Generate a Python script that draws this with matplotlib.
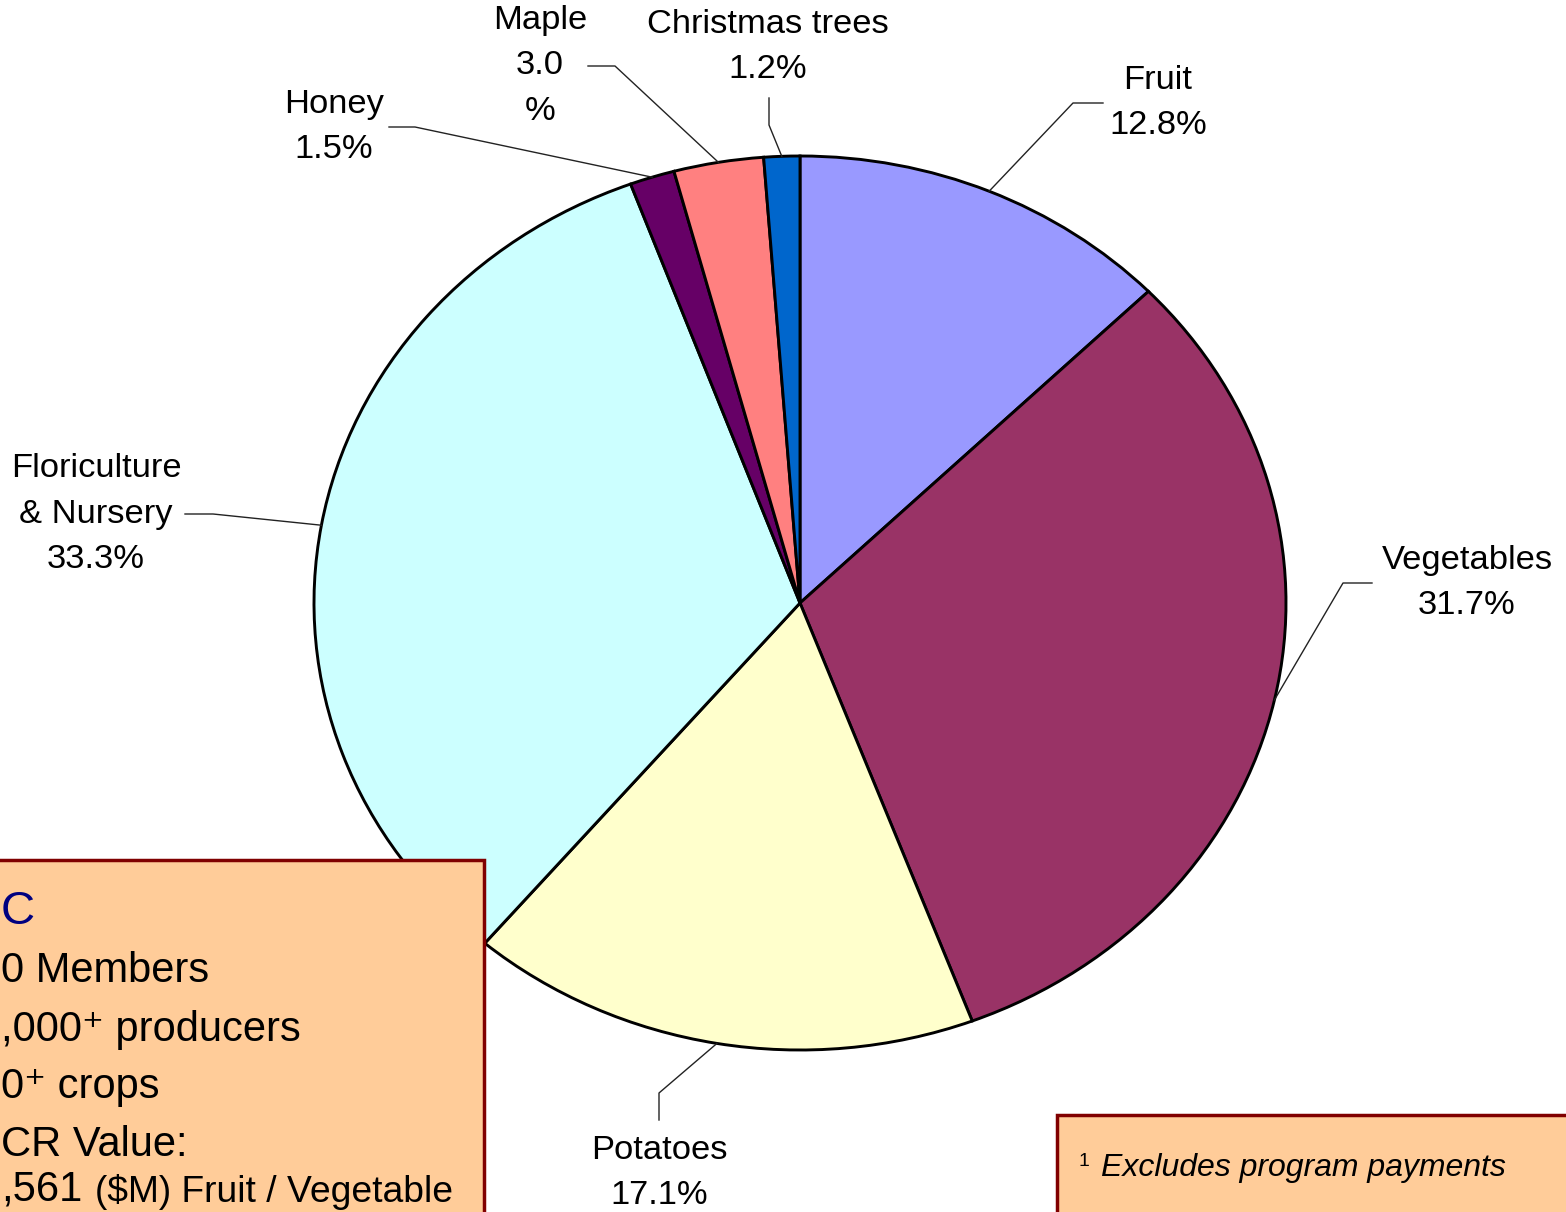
import numpy as np
import matplotlib
matplotlib.use("Agg")
import matplotlib.pyplot as plt
from matplotlib.patches import Rectangle

# ---- data ----
categories = ["Fruit", "Vegetables", "Potatoes", "Floriculture\n& Nursery", "Honey", "Maple", "Christmas trees"]
values = [12.8, 31.7, 17.1, 33.3, 1.5, 3.0, 1.2]
value_labels = ["12.8%", "31.7%", "17.1%", "33.3%", "1.5%", "3.0\n%", "1.2%"]
colors = ["#9999FF", "#993366", "#FFFFCC", "#CCFFFF", "#660066", "#FF8080", "#0066CC"]

W, H = 1566, 1212
fig = plt.figure(figsize=(W / 100, H / 100), dpi=100)
fig.patch.set_facecolor("white")

# pie axes positioned over the (elliptical) pie area
pl, pr, pt, pb = 314, 1286, 156, 1050
ax = fig.add_axes([pl / W, 1 - pb / H, (pr - pl) / W, (pb - pt) / H])
wedges, _ = ax.pie(values, colors=colors, startangle=90, counterclock=False,
                   wedgeprops=dict(edgecolor="black", linewidth=2.1))
for w in wedges:
    w.set_clip_on(False)
ax.set_aspect("auto")
ax.set_xlim(-1, 1)
ax.set_ylim(-1, 1)
ax.axis("off")

# overlay axes in pixel coordinates
ov = fig.add_axes([0, 0, 1, 1])
ov.set_xlim(0, W)
ov.set_ylim(H, 0)
ov.axis("off")
ov.patch.set_alpha(0)

FONT = ["Liberation Sans", "DejaVu Sans"]

# label layout: (text center, label anchor, elbow)
label_layout = [
    ((1158, 103), (1103, 103), (1073, 103)),
    ((1467, 583), (1372, 583), (1343, 583)),
    ((659, 1173), (659, 1120), (659, 1093)),
    ((96, 514), (185, 514), (213, 514)),
    ((334, 127), (389, 127), (415, 127)),
    ((540, 66), (588, 66), (615, 66)),
    ((768, 47), (769, 98), (769, 125)),
]

to_ov = ov.transData.inverted()
for w, cat, vl, (tc, a, e) in zip(wedges, categories, value_labels, label_layout):
    mid = np.deg2rad((w.theta1 + w.theta2) / 2)
    disp = ax.transData.transform((np.cos(mid), np.sin(mid)))
    px, py = to_ov.transform(disp)
    ov.plot([a[0], e[0], px], [a[1], e[1], py], color="#222222", lw=1.0)
    ov.text(tc[0], tc[1], cat + "\n" + vl, ha="center", va="center",
            fontsize=24.8, family=FONT, linespacing=1.6, color="black")

# left info box
ov.add_patch(Rectangle((-20, 860), 504, 420, facecolor="#FFCC99",
                       edgecolor="#800000", lw=2.5, zorder=5))
ov.text(1, 912, "C", fontsize=34, family=FONT, color="#000080",
        ha="left", va="center", zorder=6)
box_lines = [(971, "0 Members"), (1030, ",000\u207a producers"),
             (1087, "0\u207a crops"), (1145, "CR Value:")]
for y, s in box_lines:
    ov.text(1, y, s, fontsize=30, family=FONT, color="black",
            ha="left", va="center", zorder=6)
ov.text(1, 1190, ",561", fontsize=30, family=FONT, color="black",
        ha="left", va="center", zorder=6)
ov.text(95, 1192, "($M) Fruit / Vegetable", fontsize=26.8, family=FONT,
        color="black", ha="left", va="center", zorder=6)

# footnote box
ov.add_patch(Rectangle((1057, 1115), 600, 200, facecolor="#FFCC99",
                       edgecolor="#800000", lw=2.5, zorder=5))
ov.text(1078, 1162, "1", fontsize=14, family=FONT, color="black",
        ha="left", va="center", zorder=6)
ov.text(1101, 1168, "Excludes program payments", fontsize=23, family=FONT,
        style="italic", color="black", ha="left", va="center", zorder=6)

fig.savefig("out.png", dpi=100)
